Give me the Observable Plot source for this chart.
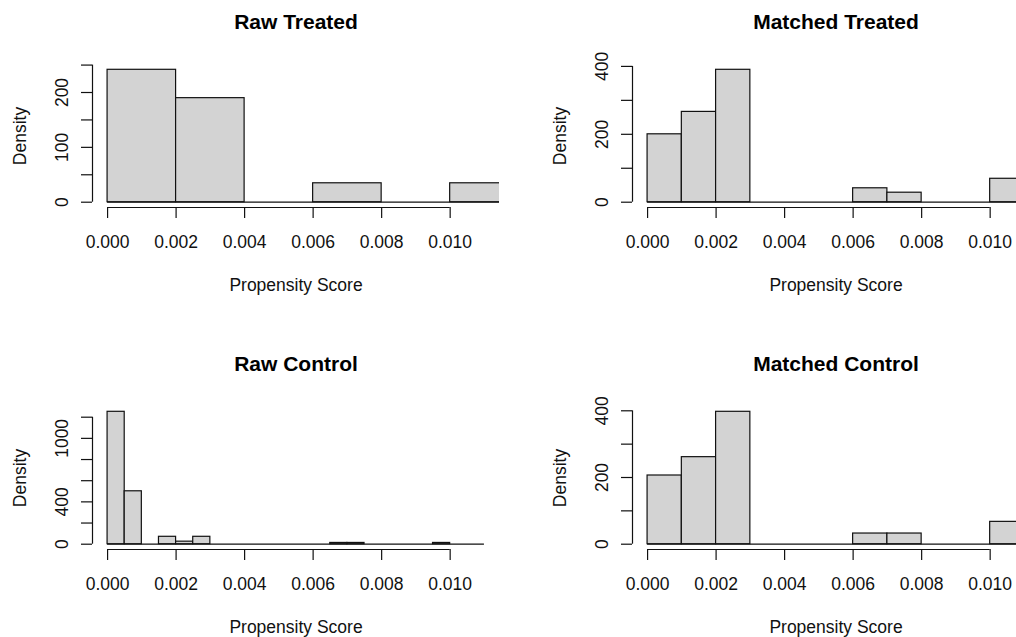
<!DOCTYPE html>
<html>
<head>
<meta charset="utf-8">
<script src="https://cdn.jsdelivr.net/npm/d3@7"></script>
<script src="https://cdn.jsdelivr.net/npm/@observablehq/plot@0.6"></script>
<style>
  html, body { margin: 0; padding: 0; background: #fff; }
  #wrap { position: relative; width: 1016px; height: 637px; overflow: hidden; background: #fff; }
  .panel { position: absolute; width: 540px; height: 342px; }
  .panel svg { max-width: none !important; width: 540px; height: 342px; }
</style>
</head>
<body>
<div id="wrap"></div>
<script>
// ---- data ----
const xLimits = [0, 0.011];
const xTicks = [0, 0.002, 0.004, 0.006, 0.008, 0.010];
const xLabel = "Propensity Score";
const yLabel = "Density";

const titles = ["Raw Treated", "Matched Treated", "Raw Control", "Matched Control"];

const rawTreatedBreaks = [0, 0.002, 0.004, 0.006, 0.008, 0.010, 0.012];
const rawTreatedDensity = [241.4, 189.7, 0, 34.5, 0, 34.5];
const rawTreatedYTicks = [0, 50, 100, 150, 200, 250];
const rawTreatedYLabels = [0, 100, 200];

const matchedTreatedBreaks = [0, 0.001, 0.002, 0.003, 0.004, 0.005, 0.006, 0.007, 0.008, 0.009, 0.010, 0.011];
const matchedTreatedDensity = [200, 266, 390, 0, 0, 0, 41, 28, 0, 0, 69];
const matchedTreatedYTicks = [0, 100, 200, 300, 400];
const matchedTreatedYLabels = [0, 200, 400];

const rawControlBreaks = [0, 0.0005, 0.001, 0.0015, 0.002, 0.0025, 0.003, 0.0035, 0.004, 0.0045, 0.005,
  0.0055, 0.006, 0.0065, 0.007, 0.0075, 0.008, 0.0085, 0.009, 0.0095, 0.010, 0.0105, 0.011];
const rawControlDensity = [1251, 500, 0, 70, 24, 70, 0, 0, 0, 0, 0, 0, 0, 12, 12, 0, 0, 0, 0, 12, 0, 0];
const rawControlYTicks = [0, 200, 400, 600, 800, 1000, 1200];
const rawControlYLabels = [0, 400, 1000];

const matchedControlBreaks = [0, 0.001, 0.002, 0.003, 0.004, 0.005, 0.006, 0.007, 0.008, 0.009, 0.010, 0.011];
const matchedControlDensity = [206, 261, 397, 0, 0, 0, 32, 32, 0, 0, 67];
const matchedControlYTicks = [0, 100, 200, 300, 400];
const matchedControlYLabels = [0, 200, 400];

// ---- drawing ----
const fmt3 = d3.format(".3f");
const FONT = "'Liberation Sans', Arial, Helvetica, sans-serif";

function panel(title, breaks, density, yTicks, yLabels) {
  const bins = density.map((d, i) => ({x1: breaks[i], x2: breaks[i + 1], y: d})).filter(b => b.y > 0);
  const span = xLimits[1] - xLimits[0];
  const xDomain = [xLimits[0] - 0.04 * span, xLimits[1] + 0.04 * span];
  const yMax = d3.max(density);
  const yDomain = [-0.04 * yMax, 1.04 * yMax];
  const txt = {lineAnchor: "middle", textAnchor: "middle", fill: "#111"};
  return Plot.plot({
    width: 540,
    height: 342,
    marginLeft: 92,
    marginRight: 41,
    marginTop: 64,
    marginBottom: 135,
    x: {domain: xDomain},
    y: {domain: yDomain},
    style: {fontFamily: FONT, fontSize: "17.5px", color: "#000", background: "transparent", overflow: "visible"},
    marks: [
      Plot.ruleY([0], {x1: breaks[0], x2: breaks[breaks.length - 1], stroke: "#111", strokeWidth: 1.2, clip: true}),
      Plot.rect(bins, {x1: "x1", x2: "x2", y1: 0, y2: "y", fill: "#d3d3d3", stroke: "#111", strokeWidth: 1.2, clip: true}),
      // axis lines
      Plot.ruleY([yDomain[0]], {x1: xTicks[0], x2: xTicks[xTicks.length - 1], stroke: "#111", strokeWidth: 1.2}),
      Plot.ruleX([xDomain[0]], {y1: yTicks[0], y2: yTicks[yTicks.length - 1], stroke: "#111", strokeWidth: 1.2}),
      // ticks
      Plot.axisX({ticks: xTicks, tickSize: 11, tickFormat: () => "", label: null, stroke: "#111", strokeWidth: 1.2}),
      Plot.axisY({ticks: yTicks, tickSize: 11, tickFormat: () => "", label: null, stroke: "#111", strokeWidth: 1.2}),
      // tick labels
      Plot.text(xTicks, {x: d => d, text: d => fmt3(d), frameAnchor: "bottom", dy: 35, ...txt}),
      Plot.text(yLabels, {y: d => d, text: d => String(d), frameAnchor: "left", dx: -30, rotate: -90, ...txt}),
      // titles
      Plot.text([title], {text: d => d, frameAnchor: "top", dy: -42, fontWeight: "bold", fontSize: 21, ...txt, fill: "#000"}),
      Plot.text([xLabel], {text: d => d, frameAnchor: "bottom", dy: 78, ...txt}),
      Plot.text([yLabel], {text: d => d, frameAnchor: "left", dx: -72, rotate: -90, ...txt})
    ]
  });
}

const wrap = document.getElementById("wrap");
const specs = [
  [titles[0], rawTreatedBreaks, rawTreatedDensity, rawTreatedYTicks, rawTreatedYLabels, 0, 0],
  [titles[1], matchedTreatedBreaks, matchedTreatedDensity, matchedTreatedYTicks, matchedTreatedYLabels, 540, 0],
  [titles[2], rawControlBreaks, rawControlDensity, rawControlYTicks, rawControlYLabels, 0, 342],
  [titles[3], matchedControlBreaks, matchedControlDensity, matchedControlYTicks, matchedControlYLabels, 540, 342]
];
for (const [t, b, d, yt, yl, left, top] of specs) {
  const div = document.createElement("div");
  div.className = "panel";
  div.style.left = left + "px";
  div.style.top = top + "px";
  div.appendChild(panel(t, b, d, yt, yl));
  wrap.appendChild(div);
}
</script>
</body>
</html>
